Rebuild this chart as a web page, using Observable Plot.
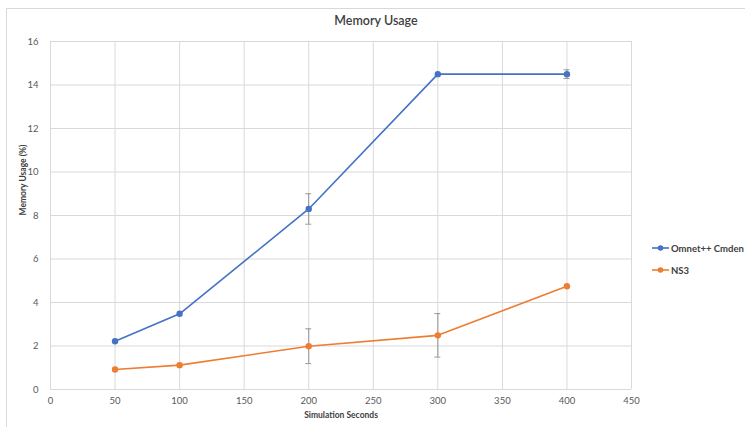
<!DOCTYPE html>
<html>
<head>
<meta charset="utf-8">
<script src="https://cdn.jsdelivr.net/npm/d3@7"></script>
<script src="https://cdn.jsdelivr.net/npm/@observablehq/plot@0.6"></script>
<style>
  html, body { margin: 0; padding: 0; background: #fff; }
  #wrap { position: relative; width: 745px; height: 427px; overflow: hidden; font-family: Lato, "Open Sans", sans-serif; }
  #frame { position: absolute; left: 6px; top: 8px; width: 800px; height: 500px; border: 1px solid #d9d9d9; box-sizing: border-box; }
  #title { position: absolute; left: 0; width: 752px; top: 13px; text-align: center; font-size: 12.5px; font-weight: 600; color: #404040; }
  #chart { position: absolute; left: 0; top: 0; }
  .leg { position: absolute; left: 652px; font-size: 9.5px; font-weight: 700; color: #404040; display: flex; align-items: center; }
  .leg svg { margin-right: 2px; }
</style>
</head>
<body>
<div id="wrap">
  <div id="frame"></div>
  <div id="chart"></div>
  <div id="title">Memory Usage</div>
  <div id="legend"></div>
</div>
<script>
const seconds = [50, 100, 200, 300, 400];
const seriesNames = ["Omnet++ Cmden", "NS3"];
const omnet = [2.22, 3.48, 8.3, 14.5, 14.5];
const omnetErr = [0, 0, 0.7, 0, 0.2];
const ns3 = [0.92, 1.12, 1.99, 2.49, 4.75];
const ns3Err = [0, 0, 0.8, 1.0, 0];
const colors = ["#4472C4", "#ED7D31"];
const xTicks = [0, 50, 100, 150, 200, 250, 300, 350, 400, 450];
const yTicks = [0, 2, 4, 6, 8, 10, 12, 14, 16];

const rows = [];
seconds.forEach((s, i) => {
  rows.push({series: seriesNames[0], x: s, y: omnet[i], e: omnetErr[i]});
  rows.push({series: seriesNames[1], x: s, y: ns3[i], e: ns3Err[i]});
});
const errs = rows.filter(d => d.e > 0);
const capHalf = 2.3;

const plot = Plot.plot({
  width: 745,
  height: 427,
  marginLeft: 50,
  marginRight: 114,
  marginTop: 41,
  marginBottom: 38,
  style: {fontFamily: "Lato, 'Open Sans', sans-serif", fontSize: "9.5px", color: "#595959", background: "transparent"},
  x: {domain: [0, 450], ticks: xTicks, label: null},
  y: {domain: [0, 16], ticks: yTicks, label: null},
  color: {domain: seriesNames, range: colors},
  marks: [
    Plot.gridX(xTicks, {stroke: "#d9d9d9", strokeOpacity: 1, strokeWidth: 1}),
    Plot.gridY(yTicks, {stroke: "#d9d9d9", strokeOpacity: 1, strokeWidth: 1}),
    Plot.axisX(xTicks, {tickSize: 0, tickPadding: 8, fill: "#595959", label: null}),
    Plot.axisY(yTicks, {tickSize: 0, tickPadding: 12, fill: "#595959", label: null}),
    Plot.ruleX(errs, {x: "x", y1: d => d.y - d.e, y2: d => d.y + d.e, stroke: "#8c8c8c", strokeWidth: 0.9}),
    Plot.ruleY(errs, {y: d => d.y - d.e, x1: d => d.x - capHalf, x2: d => d.x + capHalf, stroke: "#8c8c8c", strokeWidth: 0.9}),
    Plot.ruleY(errs, {y: d => d.y + d.e, x1: d => d.x - capHalf, x2: d => d.x + capHalf, stroke: "#8c8c8c", strokeWidth: 0.9}),
    Plot.line(rows, {x: "x", y: "y", z: "series", stroke: "series", strokeWidth: 1.6}),
    Plot.dot(rows, {x: "x", y: "y", fill: "series", r: 3.2, stroke: "none"}),
    Plot.text(["Simulation Seconds"], {frameAnchor: "bottom", dy: 28, text: d => d, fontWeight: "bold", fontSize: 8.5, fill: "#404040"}),
    Plot.text(["Memory Usage (%)"], {frameAnchor: "left", dx: -27, rotate: -90, text: d => d, fontWeight: "bold", fontSize: 8.5, fill: "#404040"})
  ]
});
document.getElementById("chart").appendChild(plot);

const legend = document.getElementById("legend");
const legendTops = [241, 263];
seriesNames.forEach((name, i) => {
  const div = document.createElement("div");
  div.className = "leg";
  div.style.top = legendTops[i] + "px";
  div.innerHTML = `<svg width="17" height="14"><line x1="0" x2="17" y1="7" y2="7" stroke="${colors[i]}" stroke-width="1.6"/><circle cx="8.5" cy="7" r="2.8" fill="${colors[i]}"/></svg><span>${name}</span>`;
  legend.appendChild(div);
});
</script>
</body>
</html>
